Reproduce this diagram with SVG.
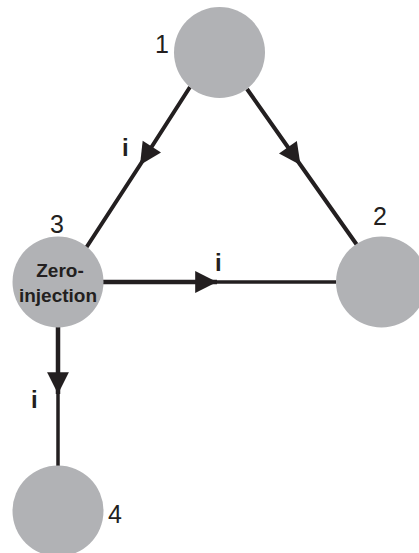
<svg xmlns="http://www.w3.org/2000/svg" width="419" height="553" viewBox="0 0 419 553">
<style>
.node{fill:#b1b2b5}
.edge{fill:none;stroke:#231f20;stroke-width:4}
.num{font-family:"Liberation Sans",Arial,sans-serif;font-size:25px;fill:#231f20}
.lbl{font-family:"Liberation Sans",Arial,sans-serif;font-size:24px;font-weight:bold;fill:#231f20}
.zi{font-family:"Liberation Sans",Arial,sans-serif;font-size:19px;font-weight:bold;fill:#231f20;text-anchor:middle}
</style>
<defs>
<marker id="arr" markerUnits="userSpaceOnUse" markerWidth="24" markerHeight="24" viewBox="-21 -11 22 22" refX="0" refY="0" orient="auto">
<path d="M0,0 L-20,-10 L-20,10 Z" fill="#231f20"/>
</marker>
</defs>
<rect width="419" height="553" fill="#ffffff"/>
<g id="connectors">
<polyline class="edge" points="190,87 140,165 86,248" marker-mid="url(#arr)"/>
<polyline class="edge" points="247,89 300.5,165 357,245" marker-mid="url(#arr)"/>
<path class="edge" d="M103,282 L217,282" style="stroke-width:4.5" marker-end="url(#arr)"/>
<path class="edge" d="M217,282 L336,282" style="stroke-width:3.5"/>
<path class="edge" d="M58,327 L58,394" style="stroke-width:4.5" marker-end="url(#arr)"/>
<path class="edge" d="M58,394 L58,466" style="stroke-width:3.5"/>
<text class="lbl" x="122" y="156">i</text>
<text class="lbl" x="215" y="271">i</text>
<text class="lbl" x="31" y="408">i</text>
</g>
<g id="node1">
<circle class="node" cx="219.5" cy="52.5" r="45.5"/>
<text class="num" x="155" y="53">1</text>
</g>
<g id="node2">
<circle class="node" cx="381.5" cy="282" r="45.5"/>
<text class="num" x="373" y="225">2</text>
</g>
<g id="node3">
<circle class="node" cx="58" cy="282" r="45.5"/>
<text class="num" x="50" y="233">3</text>
<text class="zi" x="60" y="277">Zero-</text>
<text class="zi" x="58" y="302">injection</text>
</g>
<g id="node4">
<circle class="node" cx="58" cy="511" r="45.5"/>
<text class="num" x="108" y="523">4</text>
</g>
</svg>
